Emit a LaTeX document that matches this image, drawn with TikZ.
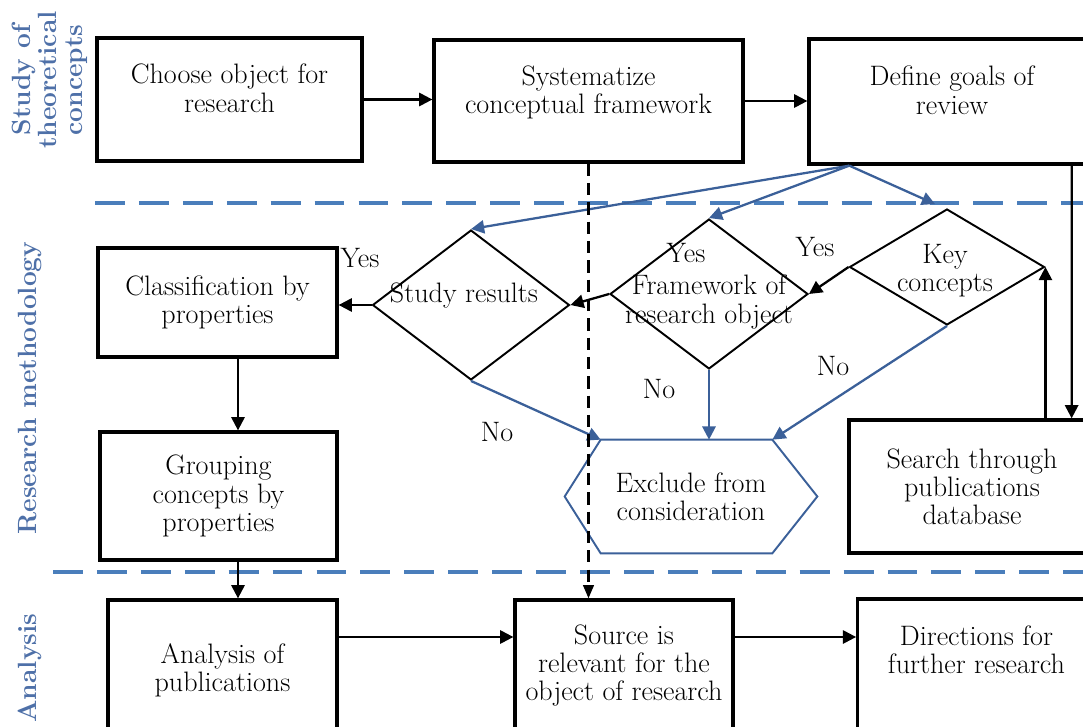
\documentclass[tikz,border=0pt]{standalone}
\usetikzlibrary{shapes.geometric,arrows.meta,calc}
\definecolor{dashblue}{RGB}{74,126,187}
\definecolor{arrblue}{RGB}{59,96,153}
\definecolor{sideblue}{RGB}{78,112,168}
\tikzset{
  box/.style={draw=black, line width=1.9pt, fill=white, align=center, inner sep=2pt},
  dec/.style={shape=diamond, draw=black, line width=1.1pt, inner sep=0pt},
  txt/.style={align=center, inner sep=0pt},
  arr/.style={line width=1.3pt, -{Triangle[length=7.5pt,width=7.5pt]}},
  barr/.style={draw=arrblue, line width=1.3pt, -{Triangle[length=7.5pt,width=7.5pt]}},
  sep/.style={draw=dashblue, line width=2.3pt, dash pattern=on 17pt off 8pt},
  vdash/.style={line width=1.3pt, dash pattern=on 7pt off 4pt, -{Triangle[length=7.5pt,width=6pt]}},
  side/.style={rotate=90, text=sideblue, font=\bfseries\fontsize{15}{14.8}\selectfont, align=center, inner sep=0pt}
}
\begin{document}
\begin{tikzpicture}[x=0.02cm, y=-0.02cm, font=\fontsize{16}{16}\selectfont]
                \useasboundingbox (0,0) rectangle (1083,727);
                \clip (0,0) rectangle (1083,727);

                % lanes
                \draw[sep] (95,203) -- (1083,203);
                \draw[sep] (53,572) -- (1083,572);
                \node[side] (lanestudy) at (50,80) {Study of\\theoretical\\concepts};
                \node[side] (lanemethod) at (30,388) {Research methodology};
                \node[side] (laneanalysis) at (30,668) {Analysis};

                % boxes
                \node[box, text depth=13pt, minimum width=5.3cm, minimum height=2.46cm] (choose) at (229.5,99.5) {Choose object for\\research};
                \node[box, text depth=13pt, minimum width=6.18cm, minimum height=2.44cm] (system) at (588.5,101) {Systematize\\conceptual framework};
                \node[box, text depth=13pt, minimum width=5.72cm, minimum height=2.5cm] (goals) at (952,101.5) {Define goals of\\review};
                \node[box, minimum width=4.78cm, minimum height=2.18cm] (classif) at (217.5,302.5) {Classification by\\properties};
                \node[box, minimum width=4.74cm, minimum height=2.56cm] (group) at (218.5,496) {Grouping\\concepts by\\properties};
                \node[box, minimum width=4.92cm, minimum height=2.66cm] (search) at (972,486.5) {Search through\\publications\\database};
                \node[box, minimum width=4.58cm, minimum height=2.8cm] (analysis) at (222.5,670) {Analysis of\\publications};
                \node[box, text depth=8pt, minimum width=4.36cm, minimum height=2.8cm] (source) at (624,670) {Source is\\relevant for the\\object of research};
                \node[box, text depth=22pt, minimum width=4.75cm, minimum height=2.8cm] (direct) at (976.5,669) {Directions for\\further research};

                % decisions
                \node[dec, minimum width=3.94cm, minimum height=3cm] (study) at (471,305) {};
                \node[dec, minimum width=3.96cm, minimum height=3cm] (frame) at (709,294) {};
                \node[dec, minimum width=3.9cm, minimum height=2.32cm] (key) at (947,267) {};
                \node[txt] (studyt) at (464,296) {Study results};
                \node[txt] (framet) at (709,302) {Framework of\\research object};
                \node[txt] (keyt) at (945,271) {Key\\concepts};

                % exclusion
                \node[txt, minimum width=5.04cm, minimum height=2.26cm] (excl) at (691,496.5) {Exclude from\\consideration};
                \coordinate (excl-tl) at ($(excl.north west)+(36,0)$);
                \coordinate (excl-tr) at ($(excl.north east)+(-45,0)$);
                \coordinate (excl-bl) at ($(excl.south west)+(36,0)$);
                \coordinate (excl-br) at ($(excl.south east)+(-45,0)$);
                \draw[draw=arrblue, line width=1.1pt] (excl.west) -- (excl-tl) -- (excl-tr) -- (excl.east) -- (excl-br) -- (excl-bl) -- cycle;

                \coordinate (colx) at (238,0);
                \coordinate (rowy) at (0,637);

                \draw[arr] (choose.east) -- (choose.east -| system.west);
                \draw[arr] (system.east) -- (system.east -| goals.west);

                \draw[barr] (goals.212) -- (study.north);
                \draw[barr] (goals.212) -- (frame.north);
                \draw[barr] (goals.212) -- ($(key.north)+(-12,-4)$);

                \draw[arr] ($(goals.south east)+(-25,0)$) -- ($(search.north east)+(-25,0)$);
                \draw[arr] (search.north -| key.east) -- (key.east);
                \draw[arr] (key.west) -- (frame.east);
                \draw[arr] (frame.west) -- (study.east);
                \draw[arr] (study.west) -- (study.west -| classif.east);

                \draw[barr] (study.south) -- (excl-tl);
                \draw[barr] (frame.south) -- (frame.south |- excl.north);
                \draw[barr] (key.south) -- (excl-tr);

                \draw[arr] (classif.south -| colx) -- (group.north -| colx);
                \draw[arr] (group.south -| colx) -- (analysis.north -| colx);
                \draw[arr] (analysis.east |- rowy) -- (source.west |- rowy);
                \draw[arr] (source.east |- rowy) -- (direct.west |- rowy);

                \draw[vdash] (system.south) -- (system.south |- source.north);

                % answers
                \node (yesstudy) at (360,258) {Yes};
                \node (yesframe) at (686,253) {Yes};
                \node (yeskey) at (815,247) {Yes};
                \node (nostudy) at (497,432) {No};
                \node (noframe) at (659,389) {No};
                \node (nokey) at (833,366) {No};

            \end{tikzpicture}
\end{document}
